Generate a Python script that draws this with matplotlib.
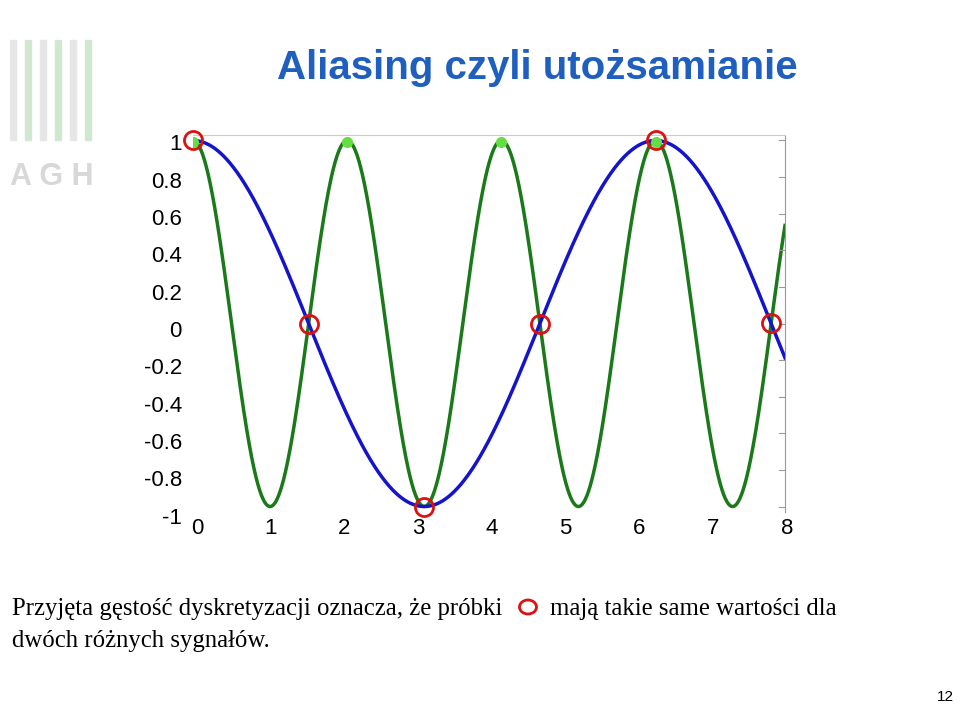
import numpy as np
import matplotlib
matplotlib.use("Agg")
import matplotlib.pyplot as plt
from matplotlib.patches import Ellipse, Rectangle

blue_period = 6.0
green_period = 2.0
sample_times = [0, 1.5, 3, 4.5, 6, 7.5]
green_dot_times = [0, 2, 4, 6]
x_labels = ["0", "1", "2", "3", "4", "5", "6", "7", "8"]
y_labels = ["1", "0.8", "0.6", "0.4", "0.2", "0", "-0.2", "-0.4", "-0.6", "-0.8", "-1"]

fig = plt.figure(figsize=(9.6, 7.04), dpi=100)
W, H = 960, 704
ax = fig.add_axes([193/W, 1-512/H, 592/W, 377/H])
xmax = 7.68
t = np.linspace(0, xmax, 2000)
ax.plot(t, np.cos(2*np.pi*t/green_period), color="#1a7a1a", lw=2.5, zorder=2)
ax.plot(t, np.cos(2*np.pi*t/blue_period), color="#1414cc", lw=2.5, zorder=3)
gd = np.array(green_dot_times)
ax.plot(gd, np.cos(2*np.pi*gd/green_period)-0.01, 'o', color="#66dd44", ms=7, zorder=4)
st = np.array(sample_times)
ax.plot(st, np.cos(2*np.pi*st/blue_period), 'o', mfc='none', mec="#dd1111", mew=2, ms=13, zorder=5, clip_on=False)
ax.set_xlim(0, xmax)
ax.set_ylim(-1.03, 1.03)
ax.set_xticks([]); ax.set_yticks([])
for s in ["left", "bottom"]:
    ax.spines[s].set_visible(False)
ax.spines["top"].set_color("#cccccc")
ax.spines["right"].set_color("#999999")
for v in np.linspace(-1, 1, 11):
    ax.plot([xmax-0.08, xmax], [v, v], color="#999999", lw=0.8, clip_on=False)

fn = "Liberation Sans"
for i, lab in enumerate(x_labels):
    x = 197 + i*(787-197)/8
    fig.text(x/W, 1-528/H, lab, ha="center", va="center", fontsize=16, family=fn)
for i, lab in enumerate(y_labels):
    y = 145 + i*(481-145)/9 if i < 10 else 518
    fig.text(182/W, 1-y/H, lab, ha="right", va="center", fontsize=16, family=fn)

fig.text(537/W, 1-68/H, "Aliasing czyli utożsamianie", ha="center", va="center",
         fontsize=29, fontweight="bold", color="#1f5fc0", family=fn)

sf = "Liberation Serif"
fig.text(12/W, 1-609/H, "Przyjęta gęstość dyskretyzacji oznacza, że próbki", ha="left", va="center", fontsize=17.8, family=sf)
fig.text(550/W, 1-609/H, "mają takie same wartości dla", ha="left", va="center", fontsize=17.8, family=sf)
fig.text(12/W, 1-641/H, "dwóch różnych sygnałów.", ha="left", va="center", fontsize=17.8, family=sf)
fig.patches.append(Ellipse((528/W, 1-607/H), 17/W, 14/H, transform=fig.transFigure,
                           fill=False, ec="#dd1111", lw=2))
fig.text(945/W, 1-697/H, "12", ha="center", va="center", fontsize=11, family=fn)

# logo
for i in range(6):
    fig.patches.append(Rectangle(((10+i*15)/W, 1-140/H), 6/W, 100/H, transform=fig.transFigure,
                                 color="#cfe8cf" if i % 2 else "#e6e6e6", zorder=0))
fig.text(52/W, 1-177/H, "A G H", ha="center", va="center", fontsize=22, fontweight="bold",
         color="#d8d8d8", family=fn)

fig.savefig("out.png", dpi=100)
